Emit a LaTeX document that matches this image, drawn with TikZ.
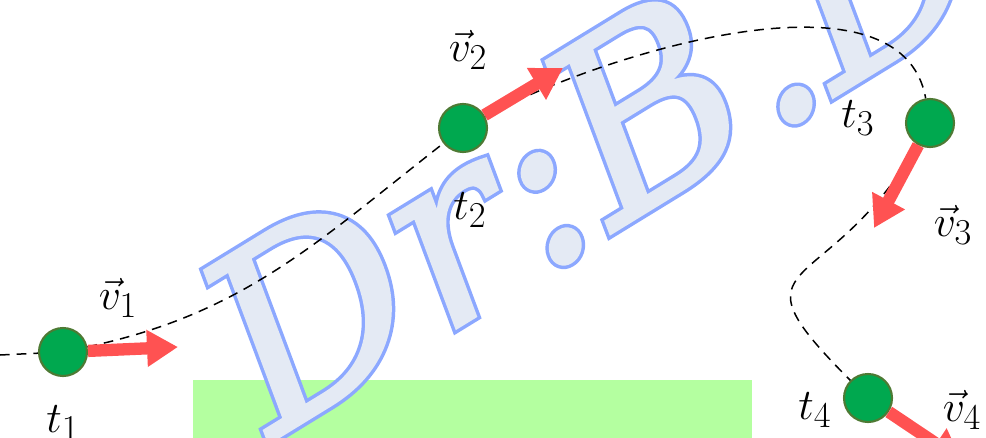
\documentclass[tikz,border=0pt]{standalone}
\usepackage{fontspec}
\usepackage{tikz}
\usetikzlibrary{arrows.meta}
\newfontfamily\markfont[UprightFont={* Italic}, FakeBold=1.2]{DejaVu Serif}
\newfontfamily\markedge[UprightFont={* Italic}, FakeBold=4]{DejaVu Serif}
\definecolor{dotgreen}{HTML}{00A84F}
\definecolor{dotrim}{HTML}{4E7A34}
\definecolor{arrowred}{HTML}{FF5252}
\definecolor{boxgreen}{HTML}{B4FFA0}
\definecolor{markfill}{HTML}{E4EAF4}
\definecolor{markline}{HTML}{8CA8FF}

\begin{document}
\begin{tikzpicture}[x=0.02cm, y=0.02cm]
\tikzset{
  point/.style={circle, fill=dotgreen, draw=dotrim, line width=1.2pt, minimum size=0.96cm, inner sep=0pt},
  vel/.style={arrowred, line width=7pt, -{Triangle[length=0.62cm, width=0.7cm]}},
  lab/.style={font=\fontsize{24.88}{30}\selectfont, inner sep=0pt},
  markstyle/.style={rotate=31.5, anchor=base west, inner sep=0pt},
}
\clip (0,0) rectangle (986,437);

\node[fill=boxgreen, anchor=north west, minimum width=11.18cm, minimum height=1.3cm, inner sep=0pt] (box) at (193,57) {};

% watermark, edge then face
\node[markstyle, text=markline, font=\fontsize{141}{141}\markedge] (markback) at (272,-4) {Dr:B.D};
\node[markstyle, text=markfill, font=\fontsize{141}{141}\markfont] (mark) at (272,-4) {Dr:B.D};

\coordinate (start) at (0,82);
\node[point] (t1) at (63,85) {};
\node[point] (t2) at (463,309) {};
\node[point] (t3) at (930,314) {};
\node[point] (t4) at (868,39) {};

\draw[dashed, line width=0.85pt, dash pattern=on 5.5pt off 4pt]
  (start) -- (t1) to[out=12, in=218] (t2) to[out=28, in=100, looseness=0.8] (t3)
  to[out=240, in=135, looseness=1.9] (t4);

\coordinate (v1tip) at (178,90);
\coordinate (v2tip) at (563,369);
\coordinate (v3tip) at (874,209);
\coordinate (v4tip) at (962,-24);
\draw[vel] (t1) -- (v1tip);
\draw[vel] (t2) -- (v2tip);
\draw[vel] (t3) -- (v3tip);
\draw[vel] (t4) -- (v4tip);

\node[lab] (lt1) at (63,14) {$t_1$};
\node[lab] (lt2) at (470,227) {$t_2$};
\node[lab] (lt3) at (858,319) {$t_3$};
\node[lab] (lt4) at (815,27) {$t_4$};
\node[lab] (lv1) at (118,139) {$\vec{v}_1$};
\node[lab] (lv2) at (468,387) {$\vec{v}_2$};
\node[lab] (lv3) at (953,212) {$\vec{v}_3$};
\node[lab] (lv4) at (962,27) {$\vec{v}_4$};
\end{tikzpicture}
\end{document}
